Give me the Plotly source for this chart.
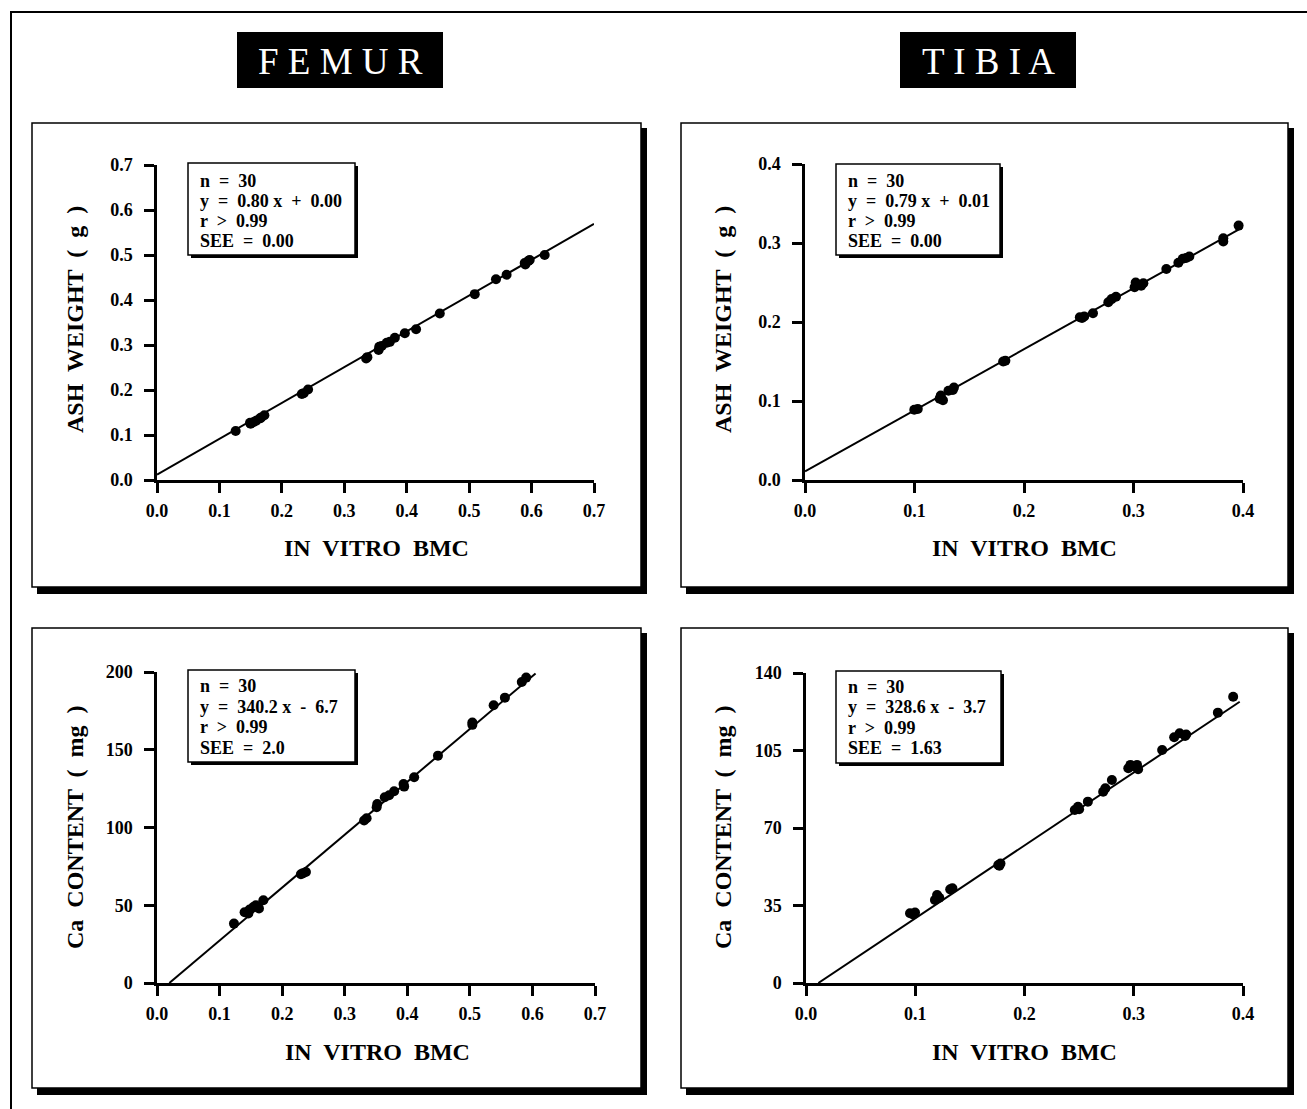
import plotly.graph_objects as go

W, H = 1307, 1109

# ---------------- data ----------------
femur_ash_x = [0.126, 0.149, 0.150, 0.155, 0.159, 0.165, 0.167, 0.172, 0.232, 0.235, 0.242,
               0.335, 0.337, 0.355, 0.356, 0.360, 0.368, 0.373, 0.381, 0.397, 0.415, 0.453,
               0.509, 0.543, 0.560, 0.589, 0.590, 0.595, 0.597, 0.621]
femur_ash_y = [0.109, 0.127, 0.125, 0.129, 0.132, 0.137, 0.139, 0.144, 0.191, 0.193, 0.201,
               0.270, 0.273, 0.289, 0.296, 0.298, 0.305, 0.307, 0.316, 0.326, 0.335, 0.370,
               0.413, 0.446, 0.456, 0.482, 0.479, 0.487, 0.489, 0.500]
femur_ash_line_x = [0.0, 0.7]
femur_ash_line_y = [0.012, 0.569]

tibia_ash_x = [0.0998, 0.103, 0.123, 0.124, 0.126, 0.131, 0.135, 0.136, 0.181, 0.183, 0.251,
               0.253, 0.255, 0.263, 0.277, 0.280, 0.284, 0.301, 0.302, 0.303, 0.307, 0.309,
               0.330, 0.341, 0.345, 0.348, 0.351, 0.382, 0.382, 0.396]
tibia_ash_y = [0.089, 0.090, 0.103, 0.107, 0.101, 0.113, 0.114, 0.117, 0.150, 0.151, 0.206,
               0.205, 0.207, 0.211, 0.225, 0.229, 0.232, 0.244, 0.250, 0.248, 0.246, 0.249,
               0.267, 0.275, 0.280, 0.281, 0.283, 0.306, 0.302, 0.322]
tibia_ash_line_x = [0.0, 0.4]
tibia_ash_line_y = [0.011, 0.320]

femur_ca_x = [0.123, 0.140, 0.146, 0.148, 0.154, 0.158, 0.163, 0.170, 0.230, 0.233, 0.238,
              0.331, 0.335, 0.351, 0.352, 0.364, 0.371, 0.379, 0.394, 0.395, 0.411, 0.449,
              0.504, 0.504, 0.538, 0.556, 0.583, 0.590, 0.588, 0.617]
femur_ca_y = [38.2, 45.5, 44.7, 47.2, 48.9, 50.0, 47.9, 53.2, 69.9, 70.5, 71.4,
              104.5, 106.0, 113.0, 115.1, 119.4, 120.7, 123.3, 128.0, 126.3, 132.3, 146.2,
              167.5, 166.0, 178.6, 183.5, 193.6, 196.4, 200.6, 200.6]
femur_ca_line_x = [0.0197, 0.605]
femur_ca_line_y = [0.0, 199.1]

tibia_ca_x = [0.0952, 0.098, 0.0998, 0.118, 0.120, 0.122, 0.132, 0.134, 0.176, 0.177, 0.178,
              0.246, 0.249, 0.250, 0.258, 0.272, 0.274, 0.280, 0.295, 0.297, 0.301, 0.303,
              0.304, 0.326, 0.337, 0.342, 0.347, 0.348, 0.377, 0.391]
tibia_ca_y = [31.5, 31.0, 31.8, 37.5, 39.7, 38.5, 42.3, 42.8, 53.3, 53.0, 54.0,
              78.1, 79.6, 78.5, 81.9, 86.4, 87.9, 91.7, 97.0, 98.5, 97.7, 98.5,
              96.5, 105.2, 111.0, 112.8, 111.6, 112.2, 122.1, 129.3]
tibia_ca_line_x = [0.0113, 0.397]
tibia_ca_line_y = [0.0, 127.0]

headers = ["F E M U R", "T I B I A"]
x_title = "IN  VITRO  BMC"
y_titles = ["ASH  WEIGHT  (  g  )", "ASH  WEIGHT  (  g  )",
            "Ca  CONTENT  (  mg  )", "Ca  CONTENT  (  mg  )"]
stats = [
    ["n  =  30", "y  =  0.80 x  +  0.00", "r  >  0.99", "SEE  =  0.00"],
    ["n  =  30", "y  =  0.79 x  +  0.01", "r  >  0.99", "SEE  =  0.00"],
    ["n  =  30", "y  =  340.2 x  -  6.7", "r  >  0.99", "SEE  =  2.0"],
    ["n  =  30", "y  =  328.6 x  -  3.7", "r  >  0.99", "SEE  =  1.63"],
]
x_ticks_femur = [0.0, 0.1, 0.2, 0.3, 0.4, 0.5, 0.6, 0.7]
x_ticks_tibia = [0.0, 0.1, 0.2, 0.3, 0.4]
y_ticks = [
    [0.0, 0.1, 0.2, 0.3, 0.4, 0.5, 0.6, 0.7],
    [0.0, 0.1, 0.2, 0.3, 0.4],
    [0, 50, 100, 150, 200],
    [0, 35, 70, 105, 140],
]

panels = [
    dict(x=femur_ash_x, y=femur_ash_y, lx=femur_ash_line_x, ly=femur_ash_line_y,
         xt=x_ticks_femur, yfmt=".1f"),
    dict(x=tibia_ash_x, y=tibia_ash_y, lx=tibia_ash_line_x, ly=tibia_ash_line_y,
         xt=x_ticks_tibia, yfmt=".1f"),
    dict(x=femur_ca_x, y=femur_ca_y, lx=femur_ca_line_x, ly=femur_ca_line_y,
         xt=x_ticks_femur, yfmt="d"),
    dict(x=tibia_ca_x, y=tibia_ca_y, lx=tibia_ca_line_x, ly=tibia_ca_line_y,
         xt=x_ticks_tibia, yfmt="d"),
]

# ---------------- layout geometry (pixels) ----------------
plot_px = [(157, 594, 165, 480), (805, 1243, 164, 480),
           (157, 595, 672, 983), (806, 1243, 673, 983)]
panel_px = [(32, 641, 123, 587), (681, 1288, 123, 587),
            (32, 641, 628, 1088), (681, 1288, 628, 1088)]
statbox_px = [(188, 355, 163, 255), (836, 1000, 164, 255),
              (188, 355, 670, 762), (836, 1001, 671, 763)]
stat_text_px = [(198, [181, 201, 221, 241]), (846, [181, 201, 221, 241]),
                (198, [686, 707, 727, 748]), (846, [687, 707, 728, 748])]
xtitle_px = [(376, 548), (1024, 548), (377, 1052), (1024, 1052)]
ytitle_px = [(75, 320), (723, 320), (75, 827), (723, 827)]
header_px = [(237, 443, 32, 88), (900, 1076, 32, 88)]

def px(x):
    return x / W

def py(y):
    return 1 - y / H

SERIF = "Liberation Serif, Times New Roman, serif"

fig = go.Figure()
shapes = []
annotations = []

# outer border
shapes.append(dict(type="rect", xref="paper", yref="paper", x0=px(11), x1=px(1330),
                   y0=py(1130), y1=py(12), line=dict(color="black", width=2),
                   fillcolor="rgba(0,0,0,0)", layer="below"))

for i, p in enumerate(panels):
    n = i + 1
    xa = "x" if n == 1 else f"x{n}"
    ya = "y" if n == 1 else f"y{n}"
    fig.add_trace(go.Scatter(x=p["lx"], y=p["ly"], mode="lines",
                             line=dict(color="black", width=2), xaxis=xa, yaxis=ya,
                             showlegend=False, cliponaxis=False))
    fig.add_trace(go.Scatter(x=p["x"], y=p["y"], mode="markers",
                             marker=dict(color="black", size=10), xaxis=xa, yaxis=ya,
                             showlegend=False, cliponaxis=False))
    l, r, t, b = plot_px[i]
    xt = p["xt"]
    yt = y_ticks[i]
    axis_common = dict(showline=True, linecolor="black", linewidth=2.5, ticks="outside",
                       ticklen=10, tickwidth=2.5, tickcolor="black", showgrid=False,
                       zeroline=False, mirror=False, automargin=False,
                       tickfont=dict(family=SERIF, size=18, color="black", weight="bold"))
    fig.update_layout(**{
        ("xaxis" if n == 1 else f"xaxis{n}"): dict(
            domain=[px(l), px(r)], range=[xt[0], xt[-1]], tickvals=xt,
            tickformat=".1f", anchor=ya, ticklabelstandoff=3, **axis_common),
        ("yaxis" if n == 1 else f"yaxis{n}"): dict(
            domain=[py(b), py(t)], range=[yt[0], yt[-1]], tickvals=yt,
            tickformat=p["yfmt"], anchor=xa, ticklabelstandoff=8, **axis_common),
    })

    pl, pr, pt, pb = panel_px[i]
    shapes.append(dict(type="rect", xref="paper", yref="paper", x0=px(pl + 5), x1=px(pr + 6),
                       y0=py(pb + 7), y1=py(pt + 5), line=dict(width=0),
                       fillcolor="black", layer="below"))
    shapes.append(dict(type="rect", xref="paper", yref="paper", x0=px(pl), x1=px(pr),
                       y0=py(pb), y1=py(pt), line=dict(color="black", width=1.5),
                       fillcolor="white", layer="below"))
    sl, sr, st, sb = statbox_px[i]
    shapes.append(dict(type="rect", xref="paper", yref="paper", x0=px(sl + 3), x1=px(sr + 3),
                       y0=py(sb + 3), y1=py(st + 3), line=dict(width=0),
                       fillcolor="black", layer="below"))
    shapes.append(dict(type="rect", xref="paper", yref="paper", x0=px(sl), x1=px(sr),
                       y0=py(sb), y1=py(st), line=dict(color="black", width=1.5),
                       fillcolor="white", layer="below"))
    tx, tys = stat_text_px[i]
    for line_txt, ty in zip(stats[i], tys):
        annotations.append(dict(x=px(tx), y=py(ty), xref="paper", yref="paper",
                                text=line_txt, showarrow=False, xanchor="left",
                                yanchor="middle",
                                font=dict(family=SERIF, size=18, color="black",
                                          weight="bold")))
    ax_, ay_ = xtitle_px[i]
    annotations.append(dict(x=px(ax_), y=py(ay_), xref="paper", yref="paper", text=x_title,
                            showarrow=False, xanchor="center", yanchor="middle",
                            font=dict(family=SERIF, size=24, color="black", weight="bold")))
    bx_, by_ = ytitle_px[i]
    annotations.append(dict(x=px(bx_), y=py(by_), xref="paper", yref="paper",
                            text=y_titles[i], showarrow=False, textangle=-90,
                            xanchor="center", yanchor="middle",
                            font=dict(family=SERIF, size=24, color="black", weight="bold")))

for (hl, hr, ht, hb), txt in zip(header_px, headers):
    shapes.append(dict(type="rect", xref="paper", yref="paper", x0=px(hl), x1=px(hr),
                       y0=py(hb), y1=py(ht), line=dict(width=0), fillcolor="black",
                       layer="below"))
    annotations.append(dict(x=px((hl + hr) / 2), y=py((ht + hb) / 2 + 1), xref="paper",
                            yref="paper", text=txt, showarrow=False, xanchor="center",
                            yanchor="middle",
                            font=dict(family=SERIF, size=37, color="white")))

fig.update_layout(width=W, height=H, margin=dict(l=0, r=0, t=0, b=0, autoexpand=False),
                  paper_bgcolor="white", plot_bgcolor="rgba(0,0,0,0)",
                  shapes=shapes, annotations=annotations, showlegend=False)

fig.write_html("out.html", config={"displayModeBar": False},
               post_script="document.body.style.margin='0';"
                           "document.body.style.overflow='hidden';")
